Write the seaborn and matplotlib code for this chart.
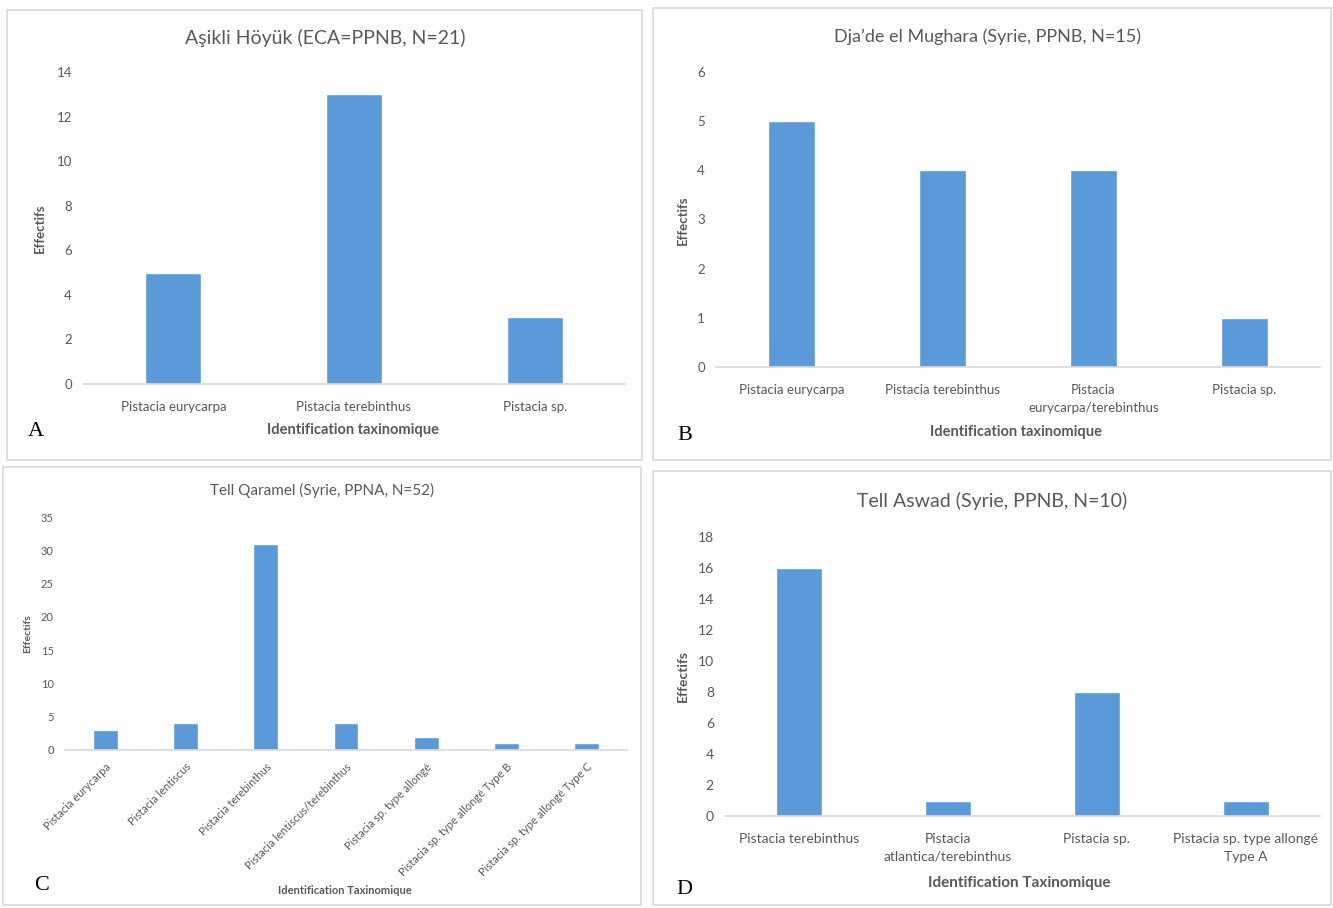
import matplotlib
matplotlib.use("Agg")
import matplotlib.pyplot as plt
import seaborn as sns
from matplotlib.patches import Rectangle

sns.set_theme(style="white")
plt.rcParams["font.family"] = ["Lato", "DejaVu Sans"]

BLEU = "#5A9AD9"
GRIS = "#595959"

# Données
cat_a = ["Pistacia eurycarpa", "Pistacia terebinthus", "Pistacia sp."]
val_a = [5, 13, 3]

cat_b = ["Pistacia eurycarpa", "Pistacia terebinthus",
         "Pistacia\neurycarpa/terebinthus", "Pistacia sp."]
val_b = [5, 4, 4, 1]

cat_c = ["Pistacia eurycarpa", "Pistacia lentiscus", "Pistacia terebinthus",
         "Pistacia lentiscus/terebinthus", "Pistacia sp. type allongé",
         "Pistacia sp. type allongé Type B", "Pistacia sp. type allongé Type C"]
val_c = [3, 4, 31, 4, 2, 1, 1]

cat_d = ["Pistacia terebinthus", "Pistacia\natlantica/terebinthus",
         "Pistacia sp.", "Pistacia sp. type allongé\nType A"]
val_d = [16, 1, 8, 1]

W, H = 1333, 908
fig = plt.figure(figsize=(W / 100, H / 100), dpi=100)


def px_rect(x0, y0, x1, y1):
    return [x0 / W, 1 - y1 / H, (x1 - x0) / W, (y1 - y0) / H]


def cadre(x0, y0, x1, y1):
    l, b, w, h = px_rect(x0, y0, x1, y1)
    fig.patches.append(Rectangle((l, b), w, h, transform=fig.transFigure,
                                 fill=False, edgecolor="#D9D9D9", lw=1.2))


def txt(x, y, s, **kw):
    fig.text(x / W, 1 - y / H, s, ha="center", va="center", **kw)


def panneau(rect, cats, vals, ymax, pas, tick_fs, xpad=12, rot=0):
    ax = fig.add_axes(px_rect(*rect))
    sns.barplot(x=cats, y=vals, color=BLEU, width=0.31, ax=ax, saturation=1)
    ax.set_ylim(0, ymax)
    ax.set_yticks(range(0, ymax + 1, pas))
    ax.set_xlim(-0.5, len(cats) - 0.5)
    for s in ["top", "right", "left"]:
        ax.spines[s].set_visible(False)
    ax.spines["bottom"].set_color("#D9D9D9")
    ax.spines["bottom"].set_linewidth(1.2)
    ax.tick_params(length=0, labelsize=tick_fs, colors=GRIS)
    ax.tick_params(axis="y", pad=8)
    ax.tick_params(axis="x", pad=xpad)
    if rot:
        plt.setp(ax.get_xticklabels(), rotation=rot, ha="right",
                 rotation_mode="anchor")
    else:
        plt.setp(ax.get_xticklabels(), linespacing=1.6)
    ax.set_xlabel("")
    ax.set_ylabel("")
    return ax


# Cadres des quatre graphiques
cadre(7, 10, 642, 460)
cadre(653, 8, 1331, 460)
cadre(3, 467, 641, 905)
cadre(653, 471, 1331, 905)

# A
panneau((83, 72, 625, 384), cat_a, val_a, 14, 2, 9.5)
txt(325, 38, "Aşikli Höyük (ECA=PPNB, N=21)", fontsize=14, color=GRIS)
txt(40, 228, "Effectifs", fontsize=9.5, color=GRIS, weight="bold", rotation=90)
txt(353, 430, "Identification taxinomique", fontsize=10.5, color=GRIS, weight="bold")

# B
panneau((716, 72, 1320, 367), cat_b, val_b, 6, 1, 9.5)
txt(987, 37, "Dja\u2019de el Mughara (Syrie, PPNB, N=15)", fontsize=13, color=GRIS)
txt(683, 220, "Effectifs", fontsize=9.5, color=GRIS, weight="bold", rotation=90)
txt(1016, 432, "Identification taxinomique", fontsize=10.5, color=GRIS, weight="bold")

# C
panneau((65, 517, 627, 750), cat_c, val_c, 35, 5, 8, xpad=8, rot=45)
txt(322, 490, "Tell Qaramel (Syrie, PPNA, N=52)", fontsize=11, color=GRIS)
txt(28, 634, "Effectifs", fontsize=7.5, color=GRIS, weight="bold", rotation=90)
txt(345, 891, "Identification Taxinomique", fontsize=8, color=GRIS, weight="bold")

# D
panneau((725, 537, 1320, 816), cat_d, val_d, 18, 2, 10)
txt(992, 501, "Tell Aswad (Syrie, PPNB, N=10)", fontsize=14, color=GRIS)
txt(683, 676, "Effectifs", fontsize=10, color=GRIS, weight="bold", rotation=90)
txt(1019, 883, "Identification Taxinomique", fontsize=11, color=GRIS, weight="bold")

# Lettres des panneaux
for lettre, x, y in [("A", 36, 432), ("B", 685, 436), ("C", 42, 886), ("D", 684, 889)]:
    txt(x, y, lettre, fontsize=16, color="black",
        family=["Liberation Serif", "DejaVu Serif"])

fig.savefig("out.png", dpi=100)
